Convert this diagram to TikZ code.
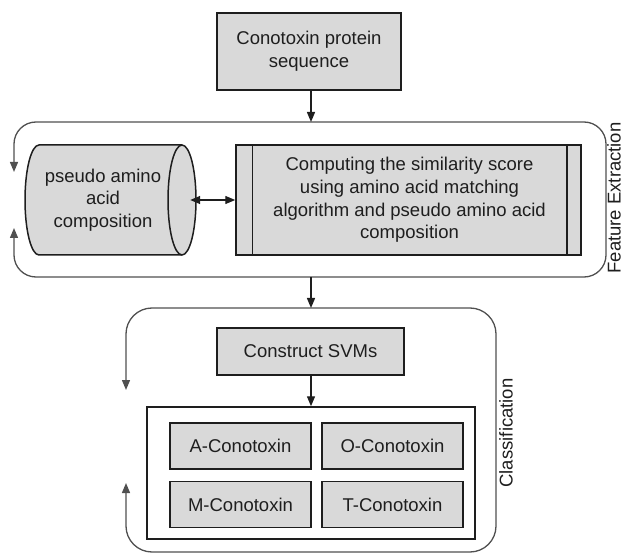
\documentclass[tikz,border=0pt]{standalone}
\usepackage{fontspec}
\setmainfont{Liberation Sans}
\usetikzlibrary{arrows.meta}
\definecolor{boxfill}{HTML}{D9D9D9}
\definecolor{edge}{HTML}{1E1E1E}
\definecolor{frameline}{HTML}{505050}
\tikzset{
  x=1pt,y=1pt,
  every node/.style={font=\fontsize{18.5}{22.6}\selectfont, text=edge, align=center, inner sep=0pt},
  gbox/.style={draw=edge, fill=boxfill, line width=1.5pt, rectangle},
  wbox/.style={draw=edge, fill=white, line width=1.5pt, rectangle},
  tip/.style={-{Triangle[length=10pt,width=8pt]}, line width=1.4pt, draw=edge},
  frame/.style={draw=frameline, line width=1.3pt, rounded corners=22pt,
     {Triangle[length=10pt,width=8pt]}-{Triangle[length=10pt,width=8pt]}},
}
\begin{document}
\begin{tikzpicture}
\useasboundingbox (0,0) rectangle (624,555);

% top box
\node[gbox, minimum width=184pt, minimum height=77pt] (top) at (309,503.5) {Conotoxin protein\\sequence};

% feature extraction frame
\coordinate (feTop) at (311,433);
\coordinate (feBot) at (311,278);
\draw[frame] (14,327) -- (14,278) -- (606,278) -- (606,433) -- (14,433) -- (14,383);
\node[rotate=90] (felab) at (614,357) {Feature Extraction};

% cylinder
\path[fill=boxfill] (39,410) arc[start angle=90, end angle=270, x radius=14, y radius=55]
   -- (182,300) arc[start angle=-90, end angle=90, x radius=14, y radius=55] -- cycle;
\draw[draw=edge, line width=1.5pt] (39,410) arc[start angle=90, end angle=270, x radius=14, y radius=55]
   -- (182,300) arc[start angle=-90, end angle=90, x radius=14, y radius=55] -- cycle;
\draw[draw=edge, line width=1.5pt] (182,410) arc[start angle=90, end angle=270, x radius=14, y radius=55];
\node[minimum width=174pt, minimum height=110pt] (cyl) at (103,355) {pseudo amino\\acid\\composition};

% process box
\node[gbox, minimum width=345pt, minimum height=110pt] (proc) at (408.5,355) {};
\draw[draw=edge, line width=1.5pt] ([xshift=17pt]proc.north west) -- ([xshift=17pt]proc.south west);
\draw[draw=edge, line width=1.5pt] ([xshift=-15pt]proc.north east) -- ([xshift=-15pt]proc.south east);
\node (proctext) at (409.5,355) {Computing the similarity score\\using amino acid matching\\algorithm and pseudo amino acid\\composition};

\draw[tip, {Triangle[length=10pt,width=8pt]}-{Triangle[length=10pt,width=8pt]}] (cyl.east) -- (proc.west);

% classification frame
\coordinate (clTop) at (311,247);
\draw[frame, rounded corners=26pt] (126,72) -- (126,3) -- (496,3) -- (496,247) -- (126,247) -- (126,165);
\node[rotate=90] (cllab) at (506,122) {Classification};

\node[gbox, minimum width=187pt, minimum height=47pt] (svm) at (310.5,203.5) {Construct SVMs};
\node[wbox, minimum width=328pt, minimum height=132pt] (cont) at (311,82) {};

\node[gbox, minimum width=141pt, minimum height=46pt] (a) at (240.5,109) {A-Conotoxin};
\node[gbox, minimum width=141pt, minimum height=46pt] (o) at (392.5,109) {O-Conotoxin};
\node[gbox, minimum width=141pt, minimum height=46pt] (m) at (240.5,50.5) {M-Conotoxin};
\node[gbox, minimum width=141pt, minimum height=46pt] (t) at (392.5,50.5) {T-Conotoxin};

% connectors
\draw[tip] (top.south -| feTop) -- (feTop);
\draw[tip] (feBot) -- (clTop);
\draw[tip] (svm.south -| cont.north) -- (cont.north);
\end{tikzpicture}
\end{document}
